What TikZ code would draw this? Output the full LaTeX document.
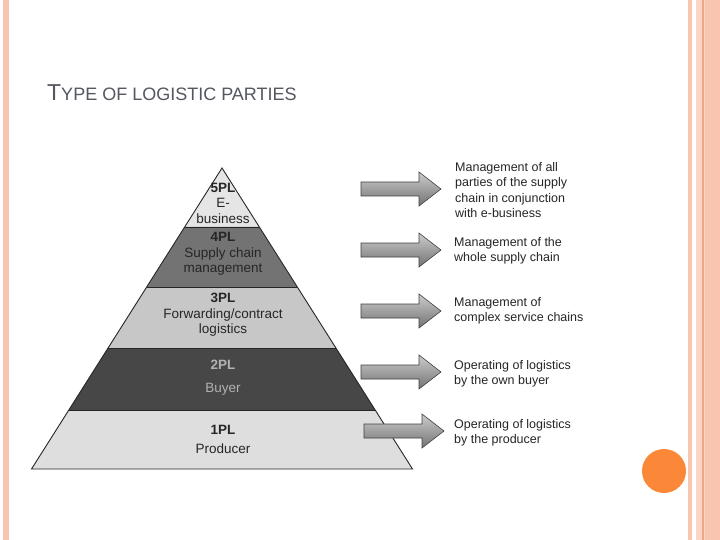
\documentclass[tikz,border=0pt]{standalone}
\usepackage{fontspec}
\setmainfont{Liberation Sans}
\definecolor{salmon}{HTML}{F9C5B0}
\definecolor{salmond}{HTML}{F0A586}
\definecolor{orng}{HTML}{FA8838}
\definecolor{ttl}{HTML}{545660}
\tikzset{
 lay/.style={draw=black!85,line width=0.9pt},
 lbl/.style={align=center,font=\fontsize{13.5}{15.5}\selectfont,text=black!85,inner sep=0pt},
 desc/.style={align=left,anchor=west,font=\fontsize{12.5}{15.5}\selectfont,text=black!85,inner sep=0pt},
 arr/.style={draw=black!75,line width=0.6pt,top color=black!20,bottom color=black!55}
}
\newcommand{\bigarrow}[3]{% x, y, name
 \coordinate (#3) at (#1,#2);
 \path[arr] ([shift={(0,-7)}]#3) -- ++(58,0) -- ++(0,-10) -- ++(22,17) -- ++(-22,17) -- ++(0,-10) -- ++(-58,0) -- cycle;}
\begin{document}
\begin{tikzpicture}[x=1pt,y=-1pt]
\useasboundingbox (0,0) rectangle (720,540);
\fill[white] (0,0) rectangle (720,540);
\fill[salmon] (3,0) rectangle (9,540);
\fill[salmon] (688,0) rectangle (692,540);
\fill[salmon!70] (696,0) rectangle (705,540);
\fill[salmon] (705,0) rectangle (720,540);
\fill[salmond] (702,0) rectangle (703.5,540);
\fill[orng] (664,471) circle (22);
\node[anchor=base west,text=ttl,inner sep=0pt] (title) at (47,101) {\fontsize{23}{26}\selectfont T\fontsize{18}{20}\selectfont YPE OF LOGISTIC PARTIES};
\fill[black!10] (222,168) -- ({222-37.3},227) -- ({222+37.3},227) -- cycle;
\fill[black!55] ({222-37.3},227) -- ({222+37.3},227) -- ({222+75.3},287) -- ({222-75.3},287) -- cycle;
\fill[black!22] ({222-75.3},287) -- ({222+75.3},287) -- ({222+113.9},348) -- ({222-113.9},348) -- cycle;
\fill[black!72] ({222-113.9},348) -- ({222+113.9},348) -- ({222+153.2},410) -- ({222-153.2},410) -- cycle;
\fill[black!13] ({222-153.2},410) -- ({222+153.2},410) -- ({222+190.5},469) -- ({222-190.5},469) -- cycle;
\draw[lay] (222,168) -- ({222+190.5},469) -- ({222-190.5},469) -- cycle;
\draw[lay] ({222-37.3},227) -- ({222+37.3},227);
\draw[lay] ({222-75.3},287) -- ({222+75.3},287);
\draw[lay] ({222-113.9},348) -- ({222+113.9},348);
\draw[lay] ({222-153.2},410) -- ({222+153.2},410);
\node[lbl] (p5) at (223,203) {\textbf{5PL}\\E-\\business};
\node[lbl] (p4) at (223,254) {\textbf{4PL}\\Supply chain\\management};
\node[lbl] (p3) at (223,315) {\textbf{3PL}\\Forwarding/contract\\logistics};
\node[lbl,text=black!30] (p2a) at (223,365) {\textbf{2PL}};
\node[lbl,text=black!30] (p2b) at (223,389) {Buyer};
\node[lbl] (p1a) at (223,430) {\textbf{1PL}};
\node[lbl] (p1b) at (223,449) {Producer};
\bigarrow{361}{189}{a5}
\bigarrow{361}{250}{a4}
\bigarrow{361}{311}{a3}
\bigarrow{361}{372}{a2}
\bigarrow{364}{431}{a1}
\node[desc] (d5) at (455,190) {Management of all\\parties of the supply\\chain in conjunction\\with e-business};
\node[desc] (d4) at (454,251) {Management of the\\whole supply chain};
\node[desc] (d3) at (454,311) {Management of\\complex service chains};
\node[desc] (d2) at (454,374) {Operating of logistics\\by the own buyer};
\node[desc] (d1) at (454,433) {Operating of logistics\\by the producer};
\end{tikzpicture}
\end{document}
